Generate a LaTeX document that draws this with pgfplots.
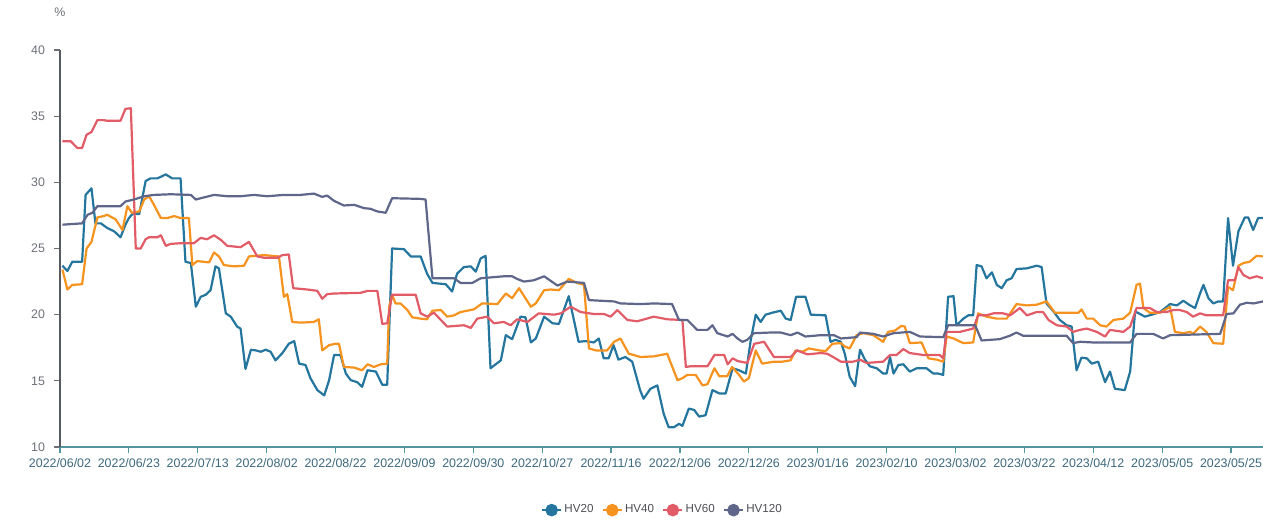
\documentclass[border=0pt]{standalone}
\usepackage{fontspec}
\setmainfont{Liberation Sans}
\usepackage{pgfplots}
\pgfplotsset{compat=1.18}

\definecolor{hvA}{RGB}{36,118,158}
\definecolor{hvB}{RGB}{245,147,30}
\definecolor{hvC}{RGB}{226,92,104}
\definecolor{hvD}{RGB}{94,102,138}
\definecolor{xaxis}{RGB}{84,150,160}
\definecolor{xlab}{RGB}{60,105,125}
\definecolor{ylab}{RGB}{110,112,121}

\begin{document}
\begin{tikzpicture}
\begin{axis}[
    name=ax,
    scale only axis,
    width=601.5pt, height=198.5pt,
    xmin=0, xmax=244.5,
    ymin=10, ymax=40,
    ytick={10,15,...,40},
    xtick={0,14,...,238},
    xticklabels={2022/06/02,2022/06/23,2022/07/13,2022/08/02,2022/08/22,2022/09/09,
      2022/09/30,2022/10/27,2022/11/16,2022/12/06,2022/12/26,2023/01/16,2023/02/10,
      2023/03/02,2023/03/22,2023/04/12,2023/05/05,2023/05/25},
    axis x line*=bottom, axis y line*=left,
    x axis line style={draw=xaxis, line width=0.8pt},
    y axis line style={draw=ylab!80!black, line width=0.6pt},
    tick align=outside,
    major tick length=3pt,
    x tick style={draw=xaxis, line width=0.6pt},
    y tick style={draw=ylab, line width=0.6pt},
    /pgf/number format/assume math mode=true,
    x tick label style={font=\fontsize{6.2}{7}\selectfont, text=xlab, yshift=1pt},
    y tick label style={font=\fontsize{6.2}{7}\selectfont, text=ylab, xshift=-1pt},
    ylabel={\%},
    ylabel style={rotate=-90, at={(rel axis cs:0,1)}, anchor=south,
      font=\fontsize{6.2}{7}\selectfont, text=ylab, yshift=13pt},
    legend columns=4,
    legend style={draw=none, fill=none, at={(0.501,-0.159)}, anchor=center,
      font=\fontsize{5.8}{7}\selectfont, text=ylab!70!black,
      inner sep=0pt,
      nodes={inner sep=1.2pt},
      /tikz/every even column/.append style={column sep=3pt}},
    legend image code/.code={
      \draw[#1, line width=0.9pt] (0pt,0pt) -- (9.5pt,0pt);
      \fill[#1] (4.75pt,0pt) circle (2.6pt);},
    every axis plot/.append style={line width=1.1pt, line join=round},
]
\addplot[hvA] coordinates {
(0.5,23.7)(1.5,23.3)(2.5,24.0)(4.5,24.0)(5.2,29.05)(6.4,29.55)(7.2,26.9)(8.3,26.9)(9.6,26.55)(11.0,26.3)(12.3,25.85)(13.3,26.8)(14.0,27.3)(14.7,27.6)(16.1,27.6)(17.4,30.1)(18.4,30.3)(19.8,30.3)(21.5,30.6)(22.8,30.3)(24.5,30.3)(25.5,24.0)(26.6,23.9)(27.6,20.6)(28.6,21.35)(29.6,21.5)(30.6,21.85)(31.6,23.65)(32.3,23.5)(33.7,20.1)(34.7,19.85)(36.0,19.1)(36.7,18.95)(37.7,15.9)(38.8,17.35)(39.8,17.3)(40.8,17.2)(41.8,17.35)(42.8,17.2)(43.8,16.55)(45.2,17.1)(46.5,17.8)(47.6,18.0)(48.6,16.3)(49.9,16.2)(50.9,15.2)(52.3,14.3)(53.7,13.9)(54.7,15.05)(55.7,16.95)(57.0,16.95)(58.1,15.55)(59.1,15.05)(60.4,14.9)(61.4,14.55)(62.5,15.8)(64.2,15.7)(65.5,14.7)(66.5,14.7)(67.5,25.0)(69.9,24.95)(71.3,24.4)(73.3,24.4)
(74.6,23.1)(75.7,22.4)(78.4,22.3)(79.7,21.75)(80.7,23.1)(82.1,23.6)(83.5,23.65)(84.5,23.25)(85.5,24.25)(86.5,24.45)(87.5,15.95)(89.6,16.55)(90.6,18.45)(91.9,18.15)(93.6,19.85)(94.6,19.8)(95.7,17.9)(96.7,18.2)(98.4,19.85)(100.1,19.35)(101.4,19.3)(103.4,21.4)(105.4,17.95)(106.8,18.0)(108.5,17.9)(109.5,18.2)(110.5,16.7)(111.5,16.7)(112.5,17.7)(113.5,16.6)(114.9,16.8)(116.3,16.45)(117.9,14.3)(118.6,13.65)(120.0,14.4)(121.4,14.65)(122.7,12.5)(123.7,11.5)(124.8,11.5)(125.8,11.75)(126.5,11.6)(127.8,12.9)(128.9,12.8)(129.9,12.3)(131.2,12.4)(132.6,14.3)(134.0,14.05)(135.3,14.05)(136.7,15.95)(138.0,15.8)(139.4,15.55)(140.4,18.1)(141.4,20.0)(142.4,19.45)(143.4,20.0)(144.8,20.15)(146.5,20.3)(147.5,19.7)(148.5,19.6)(149.6,21.35)(151.5,21.35)(152.6,20.0)(155.6,19.95)(156.6,17.95)(157.6,18.1)(158.7,17.95)
(159.5,17.05)(160.5,15.3)(161.6,14.6)(162.6,17.35)(163.6,16.6)(164.6,16.1)(166.0,15.95)(167.3,15.55)(168.0,15.55)(168.7,16.8)(169.4,15.55)(170.4,16.2)(171.4,16.25)(172.7,15.7)(174.1,15.95)(176.1,15.95)(177.5,15.55)(178.5,15.55)(179.5,15.45)(180.5,21.35)(181.6,21.4)(182.2,19.2)(183.6,19.7)(184.6,19.95)(185.6,19.95)(186.3,23.75)(187.3,23.65)(188.3,22.75)(189.4,23.2)(190.4,22.25)(191.4,22.0)(192.4,22.6)(193.4,22.75)(194.4,23.45)(196.5,23.5)(198.5,23.7)(199.5,23.6)(200.5,20.85)(201.9,20.25)(203.2,19.6)(204.6,19.2)(205.6,19.1)(206.6,15.8)(207.6,16.75)(208.7,16.7)(209.7,16.3)(211.0,16.45)(212.4,14.9)(213.4,15.7)(214.4,14.4)(216.4,14.3)(217.5,15.7)(218.5,20.25)(219.5,20.05)(220.5,19.85)(221.9,20.0)(223.6,20.2)(225.6,20.8)(227.0,20.7)(228.3,21.05)(229.7,20.7)(230.7,20.5)(231.7,21.6)(232.4,22.25)(233.4,21.25)(234.4,20.85)(235.4,21.0)(236.4,21.0)(237.4,27.3)(238.4,23.7)(239.5,26.3)(240.8,27.35)(241.5,27.35)(242.5,26.4)(243.5,27.3)(244.5,27.3)
};
\addlegendentry{HV20}
\addplot[hvB] coordinates {
(0.5,23.4)(1.5,21.9)(2.5,22.25)(4.5,22.3)(5.4,25.0)(6.4,25.5)(7.6,27.35)(8.9,27.45)(9.6,27.55)(11.3,27.2)(12.7,26.4)(13.7,28.2)(14.6,27.7)(16.1,27.8)(17.1,28.7)(18.1,28.95)(19.1,28.3)(20.5,27.3)(21.8,27.3)(23.2,27.45)(24.5,27.3)(26.2,27.3)(26.9,23.75)(27.9,24.05)(30.3,23.95)(31.3,24.7)(32.3,24.4)(33.3,23.75)(35.4,23.65)(37.4,23.7)(38.4,24.4)(41.5,24.5)(44.5,24.4)(45.5,21.35)(46.2,21.55)(47.2,19.45)(48.9,19.4)(51.6,19.45)(52.6,19.65)(53.3,17.3)(54.7,17.7)(56.0,17.8)(56.7,17.8)(57.7,16.05)(59.8,16.0)(61.4,15.8)(62.5,16.25)(63.8,16.05)(65.2,16.25)(66.5,16.3)(66.9,20.6)(67.5,21.5)(68.2,20.85)(69.2,20.85)(70.6,20.35)(71.6,19.8)(73.3,19.7)
(74.6,19.65)(75.7,20.3)(77.4,20.35)(78.7,19.85)(80.1,19.95)(81.4,20.2)(84.1,20.4)(85.8,20.85)(88.9,20.8)(90.6,21.6)(91.9,21.25)(93.3,22.0)(95.7,20.6)(96.7,20.85)(98.4,21.85)(99.7,21.9)(101.4,21.85)(103.4,22.7)(105.1,22.4)(106.5,22.25)(107.5,17.45)(108.9,17.3)(111.2,17.3)(112.6,17.95)(113.9,18.2)(115.6,17.05)(116.6,16.95)(118.0,16.8)(120.7,16.85)(123.4,17.05)(125.5,15.05)(126.5,15.2)(127.5,15.45)(129.2,15.45)(130.6,14.65)(131.6,14.75)(133.0,15.95)(134.0,15.35)(135.6,15.35)(136.6,16.05)(138.0,15.45)(139.0,14.95)(140.0,15.2)(141.4,17.3)(142.7,16.3)(145.1,16.45)(146.8,16.45)(148.5,16.55)(149.5,17.3)(150.9,17.2)(152.2,17.45)(154.3,17.3)(155.6,17.25)(157.0,17.8)(158.7,17.85)
(159.5,17.6)(160.5,17.45)(161.9,18.45)(163.3,18.6)(165.3,18.45)(167.3,17.95)(168.3,18.7)(169.7,18.8)(171.0,19.15)(171.7,19.1)(172.7,17.85)(175.1,17.9)(176.5,16.7)(178.2,16.6)(179.5,16.45)(180.2,18.35)(181.6,18.2)(183.6,17.85)(185.6,17.9)(186.6,20.1)(188.3,19.85)(190.4,19.7)(192.4,19.7)(194.4,20.8)(196.5,20.7)(198.5,20.75)(200.5,21.0)(202.2,20.15)(204.6,20.15)(207.0,20.15)(207.6,20.4)(208.7,19.7)(210.0,19.7)(211.4,19.2)(212.7,19.1)(214.1,19.6)(216.1,19.7)(217.5,20.15)(218.8,22.25)(219.5,22.35)(220.2,20.5)(221.5,20.15)(223.6,20.15)(225.6,20.6)(226.6,18.7)(228.3,18.6)(229.7,18.7)(230.3,18.55)(231.7,19.1)(233.0,18.7)(234.4,17.85)(236.4,17.8)(237.4,22.1)(238.4,21.85)(239.5,23.7)(240.5,23.9)(241.8,24.0)(243.2,24.45)(244.5,24.4)
};
\addlegendentry{HV40}
\addplot[hvC] coordinates {
(0.5,33.1)(2.2,33.1)(3.5,32.6)(4.5,32.6)(5.4,33.6)(6.4,33.8)(7.6,34.7)(8.9,34.7)(9.6,34.65)(12.3,34.65)(13.3,35.55)(14.4,35.6)(15.4,25.0)(16.4,25.0)(17.4,25.7)(18.1,25.85)(19.8,25.85)(20.5,26.0)(21.5,25.2)(22.5,25.35)(24.5,25.4)(27.2,25.4)(28.6,25.8)(29.9,25.7)(31.3,26.0)(32.7,25.65)(34.0,25.2)(36.7,25.1)(38.4,25.5)(40.1,24.4)(41.5,24.3)(44.2,24.3)(45.2,24.5)(46.5,24.55)(47.4,22.0)(50.3,21.9)(52.3,21.8)(53.3,21.2)(54.3,21.55)(55.7,21.6)(61.1,21.65)(62.5,21.8)(64.5,21.8)(65.5,19.3)(66.5,19.35)(67.5,21.5)(72.3,21.5)(73.3,20.1)
(74.6,19.85)(76.0,20.15)(77.4,19.6)(78.7,19.1)(82.1,19.2)(83.5,19.0)(84.8,19.7)(86.8,19.85)(88.2,19.35)(90.2,19.45)(91.6,19.2)(92.9,19.65)(95.0,19.45)(97.3,20.1)(100.4,20.0)(101.8,20.1)(103.8,20.6)(105.8,20.2)(108.5,20.05)(110.6,20.05)(111.9,19.85)(113.3,20.35)(115.3,19.6)(117.3,19.5)(120.7,19.85)(123.4,19.65)(126.5,19.6)(127.2,16.05)(128.2,16.1)(131.6,16.1)(133.0,16.95)(135.0,16.95)(135.7,16.25)(136.7,16.7)(137.7,16.5)(139.7,16.35)(141.1,17.8)(143.1,17.95)(145.1,16.8)(148.5,16.8)(149.8,17.3)(151.9,17.0)(154.6,17.1)(155.9,17.05)(157.6,16.7)(158.7,16.45)
(161.2,16.45)(162.6,16.6)(163.9,16.35)(167.3,16.45)(168.7,16.95)(170.0,16.95)(171.4,17.4)(172.7,17.1)(175.5,16.95)(178.8,16.95)(179.5,16.7)(180.2,18.7)(182.9,18.7)(185.6,18.95)(186.6,19.95)(188.3,19.95)(189.7,20.1)(191.7,20.1)(193.1,19.95)(195.1,20.5)(196.5,19.95)(198.5,20.2)(199.8,20.2)(200.9,19.6)(202.6,19.2)(204.6,19.1)(205.9,18.7)(207.3,18.85)(208.7,18.95)(210.7,18.7)(212.4,18.35)(213.4,18.85)(216.1,18.7)(217.5,19.1)(218.8,20.5)(221.5,20.5)(222.9,20.2)(224.9,20.2)(226.3,20.35)(227.6,20.35)(229.0,20.2)(230.3,19.85)(231.7,20.1)(233.0,19.95)(236.4,19.95)(237.4,22.6)(238.8,22.6)(239.5,23.6)(240.5,23.0)(241.8,22.75)(243.2,22.9)(244.5,22.75)
};
\addlegendentry{HV60}
\addplot[hvD] coordinates {
(0.5,26.8)(4.5,26.9)(5.6,27.55)(6.6,27.7)(7.6,28.2)(12.3,28.2)(13.3,28.55)(15.0,28.7)(17.1,28.95)(19.1,29.05)(22.5,29.1)(26.6,29.05)(27.6,28.7)(28.6,28.8)(31.3,29.05)(34.0,28.95)(36.7,28.95)(39.4,29.05)(42.1,28.95)(45.5,29.05)(48.9,29.05)(51.6,29.15)(53.3,28.9)(54.3,29.0)(55.7,28.6)(57.7,28.25)(59.8,28.3)(61.8,28.05)(63.1,28.0)(64.5,27.8)(66.2,27.7)(67.5,28.8)(73.3,28.75)(74.3,28.7)(75.7,22.75)(80.1,22.75)(81.4,22.4)(83.8,22.4)(85.5,22.75)(90.2,22.9)(91.9,22.9)(92.9,22.7)(94.3,22.5)(96.3,22.6)(98.4,22.9)(101.1,22.2)(103.1,22.5)(106.5,22.4)(107.5,21.1)(112.6,21.0)(113.9,20.85)(118.0,20.8)(120.7,20.85)(124.4,20.8)(125.8,19.6)(127.5,19.6)(129.5,18.85)(131.6,18.85)(132.6,19.2)(133.6,18.6)(135.7,18.35)(136.7,18.55)(137.7,18.2)(138.7,17.95)(139.7,18.1)(141.0,18.6)(144.4,18.65)(146.5,18.65)(148.5,18.45)(149.9,18.65)(151.5,18.35)(154.6,18.45)(157.3,18.45)(158.7,18.2)
(161.9,18.3)(162.6,18.65)(165.3,18.55)(167.3,18.35)(169.4,18.6)(172.7,18.7)(174.8,18.35)(179.5,18.3)(180.5,19.2)(186.0,19.2)(187.3,18.05)(191.0,18.15)(193.0,18.4)(194.4,18.65)(195.8,18.4)(204.6,18.4)(205.9,17.85)(207.3,17.95)(210.0,17.9)(217.5,17.9)(218.8,18.55)(222.2,18.55)(224.2,18.2)(225.6,18.45)(235.8,18.55)(237.1,20.05)(238.5,20.1)(239.8,20.75)(241.2,20.9)(242.6,20.85)(244.5,21.0)
};
\addlegendentry{HV120}
\end{axis}
\pgfresetboundingbox
\path (ax.south west) ++(-30pt,-37pt) rectangle ([yshift=25pt]ax.north east);
\end{tikzpicture}
\end{document}
